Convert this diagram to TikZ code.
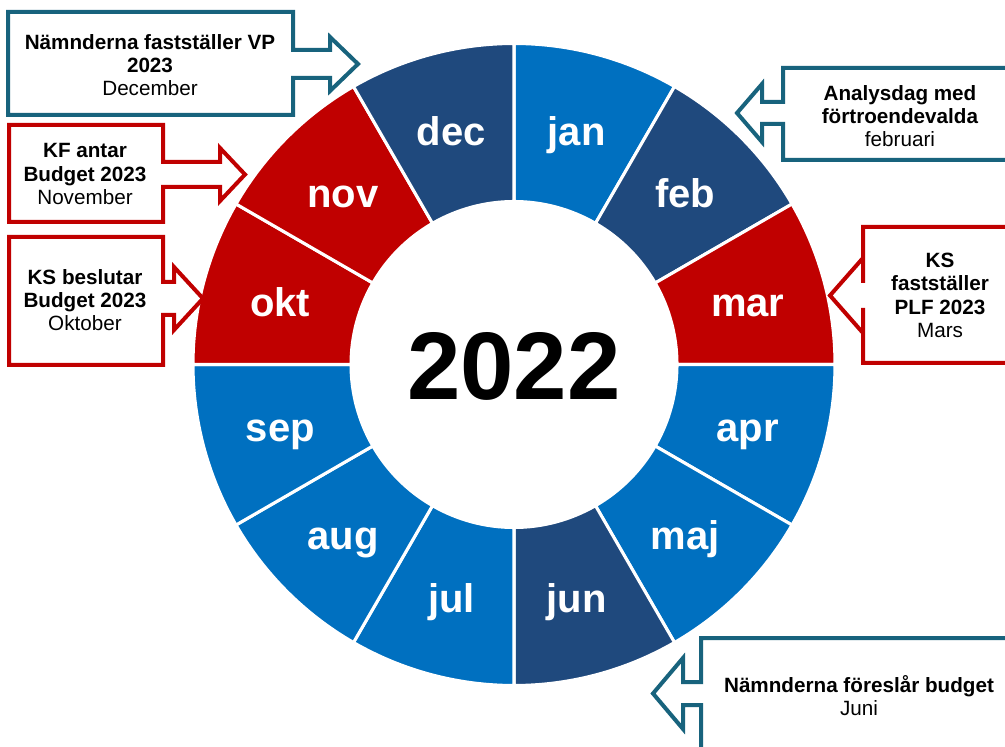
\documentclass[tikz,border=0pt]{standalone}
\usepackage{fontspec}
\setmainfont{Liberation Sans}
\usepackage{xcolor}

\definecolor{manblue}{RGB}{0,112,192}
\definecolor{mannavy}{RGB}{31,73,125}
\definecolor{manred}{RGB}{192,0,0}
\definecolor{boxteal}{RGB}{24,99,125}

\begin{document}
\begin{tikzpicture}[x=0.75pt,y=0.75pt,
  seg/.style={draw=white,line width=2.3pt},
  month/.style={text=white,text height=21.5pt,text depth=0pt,font=\fontsize{30}{30}\selectfont\bfseries},
  callout/.style={draw=#1,line width=3pt,fill=white,line join=miter},
  info/.style={align=center,text=black,font=\fontsize{15.5}{17.5}\selectfont}]
\useasboundingbox (0,0) rectangle (1005,746);
\clip (0,0) rectangle (1005,746);

% the year wheel, jan at the top, clockwise
\begin{scope}[shift={(514,381.5)}]
\foreach \m/\c [count=\i from 0] in {jan/manblue,feb/mannavy,mar/manred,apr/manblue,
    maj/manblue,jun/mannavy,jul/manblue,aug/manblue,sep/manblue,okt/manred,nov/manred,dec/mannavy}{
  \pgfmathsetmacro{\a}{90-30*\i}
  \pgfmathsetmacro{\b}{60-30*\i}
  \path[seg,fill=\c] (\a:321) arc[start angle=\a,end angle=\b,radius=321]
    -- (\b:163) arc[start angle=\b,end angle=\a,radius=163] -- cycle;
  \node[month] (\m) at ({75-30*\i}:242) {\m};
}
\node[font=\fontsize{72}{72}\selectfont\bfseries] (year) at (0,-2) {2022};
\end{scope}

% December
\draw[callout=boxteal] (8,734) -- (293,734) -- (293,696) -- (330,696) -- (330,709) -- (358,682)
  -- (330,655) -- (330,668) -- (293,668) -- (293,631) -- (8,631) -- cycle;
\node[info] (vp) at (150,681) {\textbf{Nämnderna fastställer VP}\\\textbf{2023}\\December};

% November
\draw[callout=manred] (9,621) -- (163,621) -- (163,584) -- (220,584) -- (220,598) -- (245,571.5)
  -- (220,545) -- (220,559) -- (163,559) -- (163,524) -- (9,524) -- cycle;
\node[info] (kfbudget) at (85,572) {\textbf{KF antar}\\\textbf{Budget 2023}\\November};

% Oktober
\draw[callout=manred] (9,509) -- (163,509) -- (163,464) -- (174,464) -- (174,479) -- (203,447.5)
  -- (174,416) -- (174,431) -- (163,431) -- (163,381) -- (9,381) -- cycle;
\node[info] (ksbudget) at (85,446) {\textbf{KS beslutar}\\\textbf{Budget 2023}\\Oktober};

% februari
\draw[callout=boxteal] (1020,678) -- (783,678) -- (783,644) -- (762,644) -- (762,662) -- (737,633)
  -- (762,604) -- (762,622) -- (783,622) -- (783,586) -- (1020,586) -- cycle;
\node[info] (analys) at (900,630) {\textbf{Analysdag med}\\\textbf{förtroendevalda}\\februari};

% Mars
\draw[callout=manred] (1020,519) -- (863,519) -- (863,463) -- (863,488) -- (830,450.5)
  -- (863,413) -- (863,438) -- (863,383) -- (1020,383) -- cycle;
\node[info] (plf) at (940,450.5) {\textbf{KS}\\\textbf{fastställer}\\\textbf{PLF 2023}\\Mars};

% Juni
\draw[callout=boxteal] (1020,108) -- (701,108) -- (701,64) -- (683,64) -- (683,88) -- (653,52.5)
  -- (683,17) -- (683,41) -- (701,41) -- (701,-20) -- (1020,-20) -- cycle;
\node[info] (forslag) at (859,50.5) {\textbf{Nämnderna föreslår budget}\\Juni};
\end{tikzpicture}
\end{document}
